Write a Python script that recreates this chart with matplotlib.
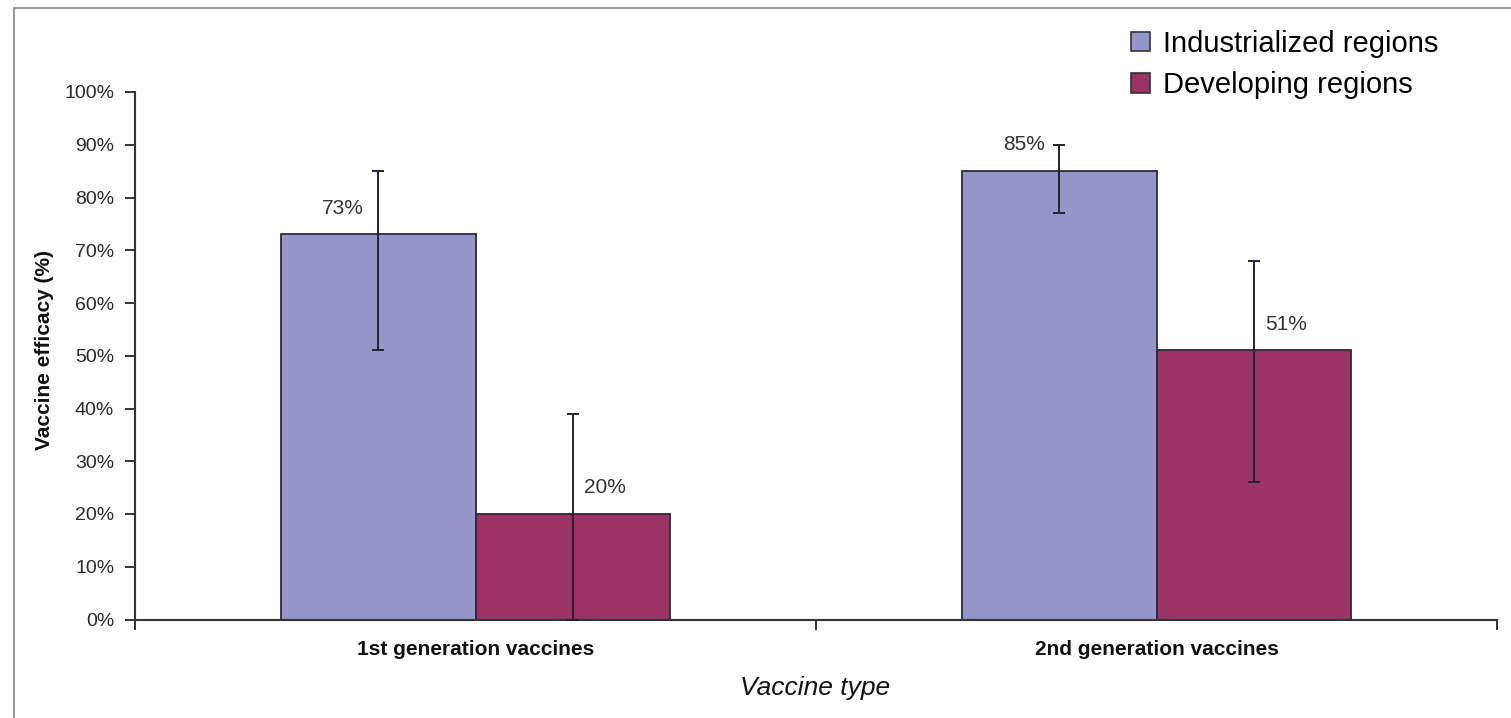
import matplotlib
matplotlib.use("Agg")
import matplotlib.pyplot as plt
from matplotlib.lines import Line2D
from matplotlib.patches import Patch
import numpy as np

plt.rcParams['font.family'] = ['Liberation Sans', 'DejaVu Sans']

categories = ["1st generation vaccines", "2nd generation vaccines"]
series = ["Industrialized regions", "Developing regions"]
industrialized = [73, 85]
industrialized_low = [51, 77]
industrialized_high = [85, 90]
developing = [20, 51]
developing_low = [0, 26]
developing_high = [39, 68]
colors = ["#9595C9", "#9C3366"]
ytick_labels = ["0%", "10%", "20%", "30%", "40%", "50%", "60%", "70%", "80%", "90%", "100%"]

W, H = 1511, 718
fig = plt.figure(figsize=(W / 100, H / 100), dpi=100)
ax = fig.add_axes([135 / W, 1 - 619.5 / H, (1497 - 135) / W, (619.5 - 92) / H])

x = np.arange(len(categories))
bw = 0.2855
edge = "#2a2a3a"

def draw_series(offset, vals, lows, highs, color, label_dx):
    vals = np.array(vals, dtype=float)
    yerr = np.array([vals - np.array(lows), np.array(highs) - vals])
    ax.bar(x + offset, vals, width=bw, color=color, edgecolor=edge, linewidth=1.3, zorder=2)
    ax.errorbar(x + offset, vals, yerr=yerr, fmt="none", ecolor="#222233",
                elinewidth=1.4, capsize=4.5, capthick=1.4, zorder=3)
    for xi, v in zip(x + offset, vals):
        ax.text(xi + label_dx, v + 5, f"{v:.0f}%", ha="center", va="center",
                fontsize=15, color="#333333", zorder=4)

draw_series(-bw / 2, industrialized, industrialized_low, industrialized_high, colors[0], -0.052)
draw_series(bw / 2, developing, developing_low, developing_high, colors[1], 0.048)

ax.set_xlim(-0.5, 1.5)
ax.set_ylim(0, 100)
ax.set_yticks(np.arange(0, 101, 10))
ax.set_yticklabels(ytick_labels, fontsize=14, color="#2a2a2a")
ax.set_xticks([-0.5, 0.5, 1.5])
ax.set_xticklabels([])
ax.set_xticks(x, minor=True)
ax.set_xticklabels(categories, minor=True, fontsize=15, fontweight="bold", color="#111111")
ax.tick_params(axis="x", which="minor", length=0, pad=15)
ax.tick_params(axis="x", which="major", direction="out", length=7, width=1.4, color="#333333")
ax.tick_params(axis="y", direction="out", length=7, width=1.4, color="#333333", pad=8)

for s in ("top", "right"):
    ax.spines[s].set_visible(False)
for s in ("left", "bottom"):
    ax.spines[s].set_linewidth(1.5)
    ax.spines[s].set_color("#333333")

fig.text(45 / W, 1 - 350 / H, "Vaccine efficacy (%)", rotation=90, ha="center", va="center",
         fontsize=15, fontweight="bold", color="#111111")
fig.text(815 / W, 1 - 688 / H, "Vaccine type", ha="center", va="center",
         fontsize=19, style="italic", color="#111111")

handles = [Patch(facecolor=c, edgecolor="#333333", linewidth=1.2) for c in colors]
fig.legend(handles, series, loc="upper left", bbox_to_anchor=(1131 / W, 1 - 30 / H),
           frameon=False, fontsize=21, handlelength=0.65, handleheight=0.65,
           handletextpad=0.45, labelspacing=0.45, borderpad=0, borderaxespad=0)

# outer frame
fig.add_artist(Line2D([14 / W, 1.0], [1 - 8 / H, 1 - 8 / H], color="#9a9a9a", linewidth=1.5))
fig.add_artist(Line2D([14 / W, 14 / W], [0.0, 1 - 8 / H], color="#9a9a9a", linewidth=1.5))

fig.savefig("out.png", dpi=100, facecolor="white")
